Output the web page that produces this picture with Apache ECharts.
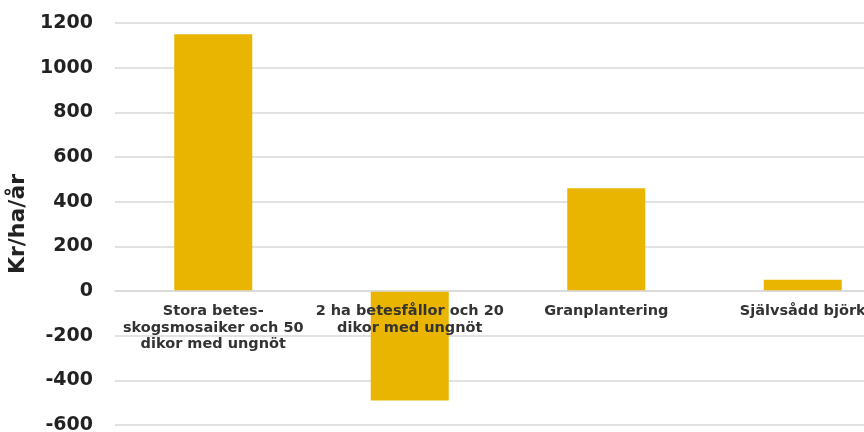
<!DOCTYPE html>
<html>
<head>
<meta charset="utf-8">
<script src="https://cdn.jsdelivr.net/npm/echarts@6/dist/echarts.min.js"></script>
<style>
  html, body { margin: 0; padding: 0; background: #fff; }
  #chart { width: 864px; height: 432px; }
</style>
</head>
<body>
<div id="chart"></div>
<script>
// data
const categories = [
    'Stora betes-\nskogsmosaiker och 50\ndikor med ungnöt',
    '2 ha betesfållor och 20\ndikor med ungnöt',
    'Granplantering',
    'Självsådd björk'
];
const values = [1150, -490, 460, 50];
const yTicks = { min: -600, max: 1200, interval: 200 };
const yName = 'Kr/ha/år';

const chart = echarts.init(document.getElementById('chart'), null, {renderer: 'canvas'});

const gridColor = '#d9d9d9';
const textFont = '"DejaVu Sans", Verdana, sans-serif';
const gridHeight = 402;
// move the category axis up to the zero line (labels follow it)
const zeroOffset = -gridHeight * (0 - yTicks.min) / (yTicks.max - yTicks.min);

let option = {
    animation: false,
    grid: {
        left: 115,
        top: 23,
        width: 786,
        height: gridHeight,
        containLabel: false,
        outerBoundsMode: 'none'
    },
    xAxis: {
        type: 'category',
        data: categories,
        position: 'bottom',
        offset: zeroOffset,
        z: 5,
        axisLine: {
            show: true,
            onZero: false,
            lineStyle: { color: gridColor, width: 1.5 }
        },
        axisTick: { show: false },
        axisLabel: {
            interval: 0,
            margin: 12,
            fontFamily: textFont,
            fontWeight: 'bold',
            fontSize: 14.5,
            lineHeight: 16.5,
            color: '#333',
            align: 'center'
        }
    },
    yAxis: {
        type: 'value',
        min: yTicks.min,
        max: yTicks.max,
        interval: yTicks.interval,
        name: yName,
        nameLocation: 'middle',
        nameGap: 76,
        nameTextStyle: {
            fontFamily: textFont,
            fontWeight: 'bold',
            fontSize: 22,
            color: '#222'
        },
        axisLine: { show: false },
        axisTick: { show: false },
        axisLabel: {
            margin: 22,
            fontFamily: textFont,
            fontWeight: 'bold',
            fontSize: 19,
            color: '#222',
            formatter: (v) => String(v)
        },
        splitLine: {
            lineStyle: { color: gridColor, width: 1.5 }
        }
    },
    series: [
        {
            type: 'bar',
            data: values,
            barWidth: 78,
            z: 2,
            itemStyle: { color: '#E9B500' }
        }
    ]
};

chart.setOption(option);
</script>
</body>
</html>
